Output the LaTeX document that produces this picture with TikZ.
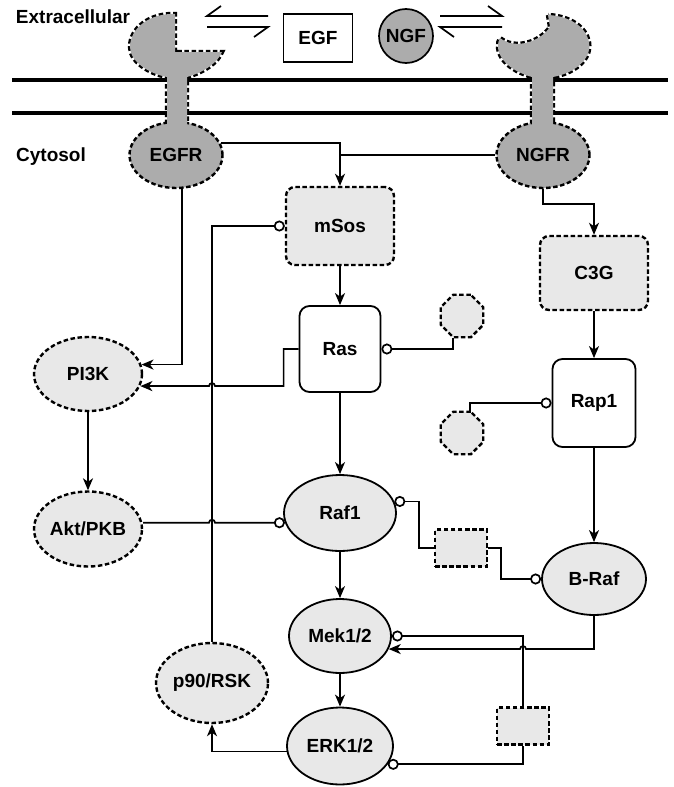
\documentclass[tikz,border=0pt]{standalone}
\usepackage{fontspec}
\setmainfont{Liberation Sans}
\usetikzlibrary{arrows.meta,positioning,calc,shapes.geometric}
\definecolor{lightfill}{RGB}{232,232,232}
\definecolor{recfill}{RGB}{172,172,172}
\newcommand{\egfrhead}{(175,52) -- (175,14) .. controls (150,13) and (130,28) .. (130,47) .. controls (130,62) and (150,74) .. (167,77) -- (187,77) .. controls (205,72) and (218,62) .. (222,52) -- cycle (167,70) rectangle (187,128)}
\newcommand{\ngfrhead}{(548,15) -- (550,27) .. controls (540,42) and (515,50) .. (500,38) .. controls (494,48) and (500,68) .. (532,77) -- (553,77) .. controls (580,72) and (592,55) .. (589,42) .. controls (586,27) and (570,16) .. (548,15) -- cycle (532,70) rectangle (553,128)}

\begin{document}
\begin{tikzpicture}[x=1pt, y=-1pt, line width=1.7pt, font=\fontsize{19}{21}\selectfont\bfseries, >={Stealth[length=12pt,width=10pt,inset=3.5pt]},
 dsh/.style={dash pattern=on 4.5pt off 2.6pt},
 mol/.style={ellipse, draw, fill=lightfill, line width=1.8pt, inner sep=0pt},
 dmol/.style={mol, dsh, line width=2.4pt},
 gtp/.style={draw, rounded corners=10pt, fill=white, line width=1.8pt, inner sep=0pt},
 gef/.style={draw, dsh, line width=2.4pt, rounded corners=9pt, fill=lightfill, inner sep=0pt},
 pase/.style={draw, dsh, line width=2.4pt, fill=lightfill, minimum width=52pt, minimum height=37pt},
 gap/.style={regular polygon, regular polygon sides=8, draw, dsh, line width=2.4pt, fill=lightfill, minimum size=46pt, inner sep=0pt},
 rec/.style={ellipse, draw, dsh, line width=2.4pt, fill=recfill, minimum width=93pt, minimum height=66pt, inner sep=0pt},
 inh/.style={{Circle[length=11pt,fill=white]}-}]
\useasboundingbox (0,0) rectangle (674,787);
\draw[line width=4pt] (12,80) -- (668,80) (12,113) -- (668,113);
\node (extra) at (73,17) {Extracellular};
\node (cyto) at (51,157) {Cytosol};
\draw[dsh, line width=4.4pt] \egfrhead;
\node[rec] (EGFR) at (176,155) {EGFR};
\fill[recfill] \egfrhead;
\draw[dsh, line width=4.4pt] \ngfrhead;
\node[rec] (NGFR) at (543,155) {NGFR};
\fill[recfill] \ngfrhead;
\node[draw, minimum width=69pt, minimum height=48pt] (EGF) at (318,38) {EGF};
\node[circle, draw, fill=recfill, minimum size=54pt, inner sep=0pt] (NGF) at (406,36) {NGF};
\draw (268,16) -- (207,16) -- (221,6);
\draw (207,27) -- (268,27) -- (254,37);
\draw (440,16) -- (502,16) -- (488,6);
\draw (502,27) -- (440,27) -- (454,37);
\node[gef, minimum width=108pt, minimum height=78pt] (mSos) at (340,226) {mSos};
\draw[->] (EGFR.15) -| (mSos.north);
\draw (NGFR.west) -- (NGFR.west -| mSos.north);
\node[gtp, minimum width=81pt, minimum height=86pt] (Ras) at (340,349) {Ras};
\draw[->] (mSos) -- (Ras);
\node[gef, minimum width=108pt, minimum height=74pt] (C3G) at (594,273) {C3G};
\draw[->] (NGFR.south) -- ++(0,15) -| (C3G.north);
\node[gtp, minimum width=83pt, minimum height=88pt] (Rap1) at (594,403) {Rap1};
\draw[->] (C3G) -- (Rap1);
\node[gap] (gap1) at (462,316) {};
\draw[inh] (Ras.east) -| ($(gap1.south)+(-9,0)$);
\node[gap] (gap2) at (462,433) {};
\draw[inh] (Rap1.west) -| ($(gap2.north)+(8,0)$);
\node[dmol, minimum width=108pt, minimum height=74pt] (PI3K) at (88,374) {PI3K};
\node[dmol, minimum width=108pt, minimum height=75pt] (Akt) at (88,529) {Akt/PKB};
\draw[->] (PI3K) -- (Akt);
\node[mol, minimum width=112pt, minimum height=76pt] (Raf1) at (340,513) {Raf1};
\draw[->] (Ras) -- (Raf1);
\node[mol, minimum width=104pt, minimum height=72pt] (BRaf) at (594,579) {B-Raf};
\draw[->] (Rap1) -- (BRaf);
\node[mol, minimum width=102pt, minimum height=74pt] (Mek) at (340,636) {Mek1/2};
\draw[->] (Raf1) -- (Mek);
\node[mol, minimum width=106pt, minimum height=77pt] (ERK) at (340,746) {ERK1/2};
\draw[->] (Mek) -- (ERK);
\node[dmol, minimum width=112pt, minimum height=80pt] (p90) at (212,683) {p90/RSK};
\draw[->] (ERK.186) -| (p90.south);
\draw[inh] (mSos.west) -| (p90.north);
\draw[->] (EGFR.280) |- (PI3K.10);
\draw[->] (Ras.west) -- ++(-15,0) |- ($(p90.north |- PI3K.347)+(3,0)$) arc[start angle=0, end angle=180, radius=3pt] -- (PI3K.347);
\draw[inh] (Raf1.190) -- ($(p90.north |- Raf1.190)+(3,0)$) arc[start angle=0, end angle=180, radius=3pt] -- (Akt.east |- Raf1.190);
\node[pase] (pase1) at (461,548) {};
\draw[inh] (Raf1.12) -- ++(25,0) |- (pase1.west);
\draw[inh] (BRaf.west) -- ++(-40,0) |- (pase1.east);
\node[pase] (pase2) at (523,726) {};
\draw[inh] (Mek.east) -| (pase2.north);
\draw[inh] (ERK.339) -| (pase2.south);
\draw[->] (BRaf.south) |- ($(pase2.north |- Mek.345)+(3,0)$) arc[start angle=0, end angle=180, radius=3pt] -- (Mek.345);
\end{tikzpicture}
\end{document}
